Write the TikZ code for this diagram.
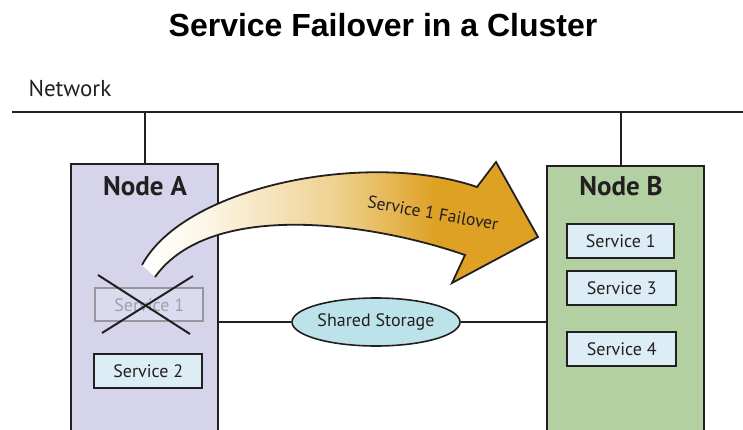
\documentclass[tikz,border=0pt]{standalone}
\usepackage{fontspec}
\setmainfont{PT Sans}
\newfontfamily\titlefont{Liberation Sans}
\usetikzlibrary{shapes.geometric}
\definecolor{nodeAfill}{RGB}{213,212,235}
\definecolor{nodeBfill}{RGB}{179,208,162}
\definecolor{svcfill}{RGB}{221,237,246}
\definecolor{storefill}{RGB}{189,227,234}
\definecolor{edgec}{RGB}{35,31,32}
\definecolor{gold}{RGB}{222,161,36}
\definecolor{goldmid}{RGB}{238,208,140}
\definecolor{cream}{RGB}{252,246,232}
\definecolor{fadeedge}{RGB}{150,150,156}
\definecolor{fadetext}{RGB}{160,160,170}
\definecolor{fadefill}{RGB}{218,219,238}
\pgfdeclarehorizontalshading{failshade}{100bp}{color(0bp)=(white); color(25bp)=(white); color(33bp)=(cream); color(50bp)=(goldmid); color(62bp)=(gold); color(100bp)=(gold)}
\begin{document}
\begin{tikzpicture}[x=1pt,y=-1pt,
  hostbox/.style={draw=edgec, line width=2pt, anchor=north west, inner sep=0pt, minimum width=147pt},
  hostlabel/.style={font=\bfseries\fontsize{27}{29}\selectfont, text=edgec},
  svc/.style={draw=edgec, line width=2.4pt, fill=svcfill, anchor=north west, inner sep=0pt,
     minimum height=34pt, font=\fontsize{18}{20}\selectfont, text=edgec},
  fadesvc/.style={svc, draw=fadeedge, fill=fadefill, text=fadetext},
  wire/.style={draw=edgec, line width=2pt}]
\useasboundingbox (0,0) rectangle (743,430);
\clip (0,0) rectangle (743,430);

% title
\node[anchor=base, font=\titlefont\bfseries\fontsize{32}{34}\selectfont] (title) at (383,37) {Service Failover in a Cluster};
\node[anchor=base west, font=\fontsize{23}{25}\selectfont, text=edgec] (net) at (25,97) {Network};

% network
\coordinate (netL) at (12,112);
\coordinate (netR) at (743,112);
\draw[wire, line width=2.5pt] (netL) -- (netR);

% hosts
\node[hostbox, fill=nodeAfill, minimum height=290pt] (nodeA) at (70,163) {};
\node[hostbox, fill=nodeBfill, minimum width=157pt, minimum height=290pt] (nodeB) at (546,165) {};
\node[hostlabel] (labA) at (145,186) {Node A};
\node[hostlabel] (labB) at (621,186) {Node B};

\coordinate (aTop) at (nodeA.north);
\coordinate (bTop) at ([xshift=-5pt]nodeB.north);
\draw[wire] (aTop) -- (aTop |- netL);
\draw[wire] (bTop) -- (bTop |- netL);

% services
\node[fadesvc, minimum width=108pt, minimum height=33pt] (a1) at (94,287) {Service 1};
\node[svc, minimum width=108pt] (a2) at (93,353) {Service 2};
\node[svc, minimum width=107pt] (b1) at (566,223) {Service 1};
\node[svc, minimum width=109pt] (b3) at (566,270) {Service 3};
\node[svc, minimum width=109pt] (b4) at (566,331) {Service 4};

% cross
\draw[edgec, line width=2pt] (98,275) -- (190,334);
\draw[edgec, line width=2pt] (102,333) -- (193,276);

% shared storage
\node[ellipse, draw=edgec, line width=1.6pt, fill=storefill, minimum width=168pt, minimum height=48pt, inner sep=0pt,
  font=\fontsize{18}{20}\selectfont, text=edgec] (store) at (376,322) {Shared Storage};
\draw[wire] (store.west) -- (store.west -| nodeA.east);
\draw[wire] (store.east) -- (store.east -| nodeB.west);

% failover arrow
\shade[shading=failshade] (142,265) .. controls (185,185) and (370,150) .. (477,187)
  -- (496,162) -- (538,237) -- (452,283) -- (465,255)
  .. controls (370,222) and (210,200) .. (155,277) -- cycle;
\draw[edgec, line width=1.8pt, line join=miter] (142,265) .. controls (185,185) and (370,150) .. (477,187)
  -- (496,162) -- (538,237) -- (452,283) -- (465,255)
  .. controls (370,222) and (210,200) .. (155,277);
\node[rotate=-10, font=\fontsize{17.5}{19}\selectfont, text=edgec] (ftext) at (433,213) {Service 1 Failover};
\end{tikzpicture}
\end{document}
